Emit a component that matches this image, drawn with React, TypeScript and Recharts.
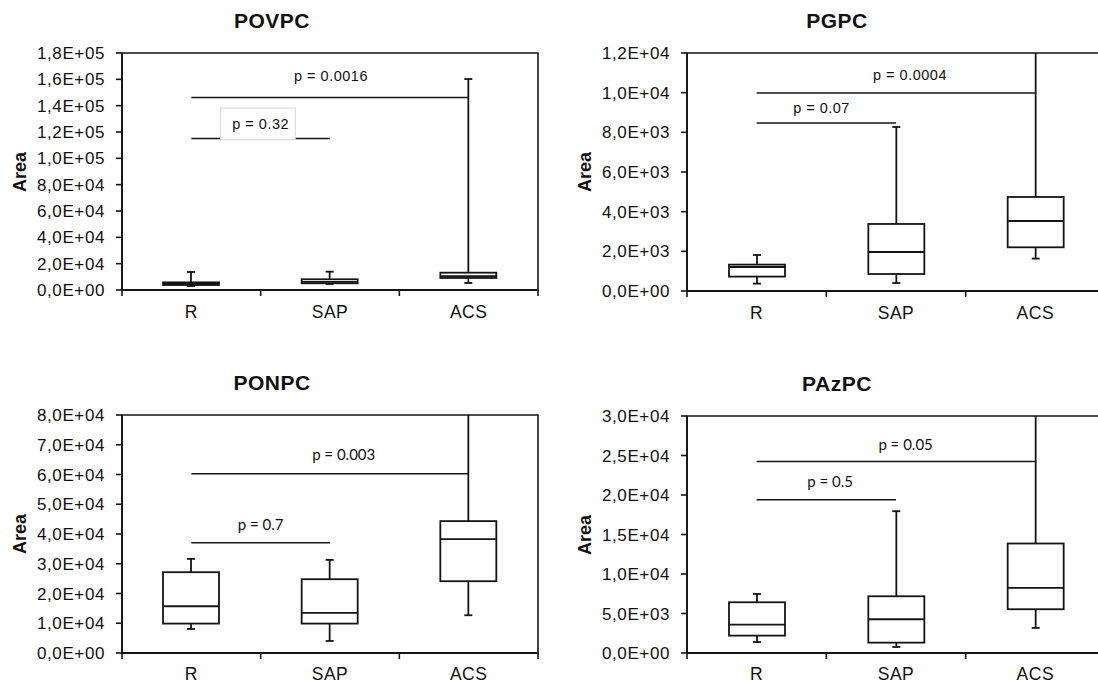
import React from 'react';
import { ComposedChart, Bar, Cell, XAxis, YAxis, ReferenceLine, ReferenceArea } from 'recharts';

// ---------- data ----------
const groups = ['R', 'SAP', 'ACS'];

const povpcMin = [3000, 4560, 5320];
const povpcQ1 = [3800, 5100, 9130];
const povpcMedian = [4500, 6200, 10500];
const povpcQ3 = [5800, 8140, 13160];
const povpcMax = [13690, 13920, 160240];
const povpcTicks = [0, 20000, 40000, 60000, 80000, 100000, 120000, 140000, 160000, 180000];
const povpcTests = [
  { from: 'R', to: 'ACS', y: 146250, text: 'p = 0.0016' },
  { from: 'R', to: 'SAP', y: 115070, text: 'p = 0.32' },
];

const pgpcMin = [373, 403, 1633];
const pgpcQ1 = [726, 857, 2203];
const pgpcMedian = [1210, 1966, 3530];
const pgpcQ3 = [1330, 3380, 4740];
const pgpcMax = [1815, 8270, 15000];
const pgpcTicks = [0, 2000, 4000, 6000, 8000, 10000, 12000];
const pgpcTests = [
  { from: 'R', to: 'ACS', y: 9983, text: 'p = 0.0004' },
  { from: 'R', to: 'SAP', y: 8470, text: 'p = 0.07' },
];

const ponpcMin = [8080, 4040, 12690];
const ponpcQ1 = [9890, 9890, 24130];
const ponpcMedian = [15720, 13460, 38270];
const ponpcQ3 = [27160, 24800, 44330];
const ponpcMax = [31640, 31300, 90000];
const ponpcTicks = [0, 10000, 20000, 30000, 40000, 50000, 60000, 70000, 80000];
const ponpcTests = [
  { from: 'R', to: 'ACS', y: 60250, text: 'p = 0.003' },
  { from: 'R', to: 'SAP', y: 37020, text: 'p = 0.7' },
];

const pazpcMin = [1390, 760, 3170];
const pazpcQ1 = [2200, 1310, 5540];
const pazpcMedian = [3590, 4270, 8240];
const pazpcQ3 = [6420, 7180, 13860];
const pazpcMax = [7475, 17950, 33000];
const pazpcTicks = [0, 5000, 10000, 15000, 20000, 25000, 30000];
const pazpcTests = [
  { from: 'R', to: 'ACS', y: 24250, text: 'p = 0.05' },
  { from: 'R', to: 'SAP', y: 19390, text: 'p = 0.5' },
];

// ---------- styles ----------
const FONT = '"Liberation Sans", Arial, sans-serif';
const CAL = 'Lato, "Liberation Sans", sans-serif';
const INK = '#141414';

function sci(v: number): string {
  if (v === 0) return '0,0E+00';
  const e = Math.floor(Math.log10(v) + 1e-9);
  const m = v / Math.pow(10, e);
  return m.toFixed(1).replace('.', ',') + 'E+' + String(e).padStart(2, '0');
}

function BoxShape(props: any) {
  const { x, y, width, height } = props;
  if (![x, y, width, height].every((n) => Number.isFinite(n))) return null;
  const d = props.payload ?? props;
  const { min, q1, median, q3, max } = d;
  const span = max - min;
  const py = (v: number) => y + ((max - v) / span) * height;
  const cx = x + width / 2;
  const cap = 4;
  const sw = 1.8;
  return (
    <g>
      <line x1={cx} x2={cx} y1={py(max)} y2={py(q3)} stroke={INK} strokeWidth={sw} />
      <line x1={cx} x2={cx} y1={py(q1)} y2={py(min)} stroke={INK} strokeWidth={sw} />
      <line x1={cx - cap} x2={cx + cap} y1={py(max)} y2={py(max)} stroke={INK} strokeWidth={sw} />
      <line x1={cx - cap} x2={cx + cap} y1={py(min)} y2={py(min)} stroke={INK} strokeWidth={sw} />
      <rect x={x} y={py(q3)} width={width} height={Math.max(0.5, py(q1) - py(q3))} fill={props.fill || '#fff'} stroke={INK} strokeWidth={sw} />
      <line x1={x} x2={x + width} y1={py(median)} y2={py(median)} stroke={INK} strokeWidth={sw} />
    </g>
  );
}

function XTick(props: any) {
  const { x, y, payload, index, bandW, count, rightTick, labelGap } = props;
  return (
    <g>
      <line x1={x - bandW / 2} x2={x - bandW / 2} y1={y} y2={y + 6} stroke={INK} strokeWidth={1.6} />
      {rightTick && index === count - 1 ? (
        <line x1={x + bandW / 2} x2={x + bandW / 2} y1={y} y2={y + 6} stroke={INK} strokeWidth={1.6} />
      ) : null}
      <text x={x} y={y + labelGap} textAnchor="middle" fontFamily={FONT} fontSize={17.5} letterSpacing={0.5} fill="#111">
        {payload.value}
      </text>
    </g>
  );
}

function PLabel(props: any) {
  const vb = props.viewBox || {};
  const cx = (vb.x ?? 0) + (vb.width ?? 0) / 2 + (props.dx || 0);
  const cy = (vb.y ?? 0) + (props.dy || 0);
  return (
    <g>
      {props.boxed ? (
        <rect x={cx - 40} y={cy - 15.7} width={74.6} height={31.7} fill="#fff" stroke="#d4d4d4" strokeWidth={1} />
      ) : null}
      <text x={cx} y={cy} dy="0.35em" textAnchor="middle" fontFamily={props.font} fontSize={props.size} letterSpacing={props.ls || 0} fill="#111">
        {props.text}
      </text>
    </g>
  );
}

type PanelCfg = {
  title: string;
  min: number[];
  q1: number[];
  median: number[];
  q3: number[];
  max: number[];
  ticks: number[];
  tests: { from: string; to: string; y: number; text: string }[];
  labelStyle: { dx: number; dy: number; boxed?: boolean }[];
  labelFont: string;
  labelSize: number;
  labelLs: number;
  fills: string[];
  left: number;
  top: number;
  width: number;
  height: number;
  margin: { top: number; right: number; bottom: number; left: number };
  yAxisWidth: number;
  xAxisHeight: number;
  labelGap: number;
  rightTick: boolean;
};

function Panel({ cfg }: { cfg: PanelCfg }) {
  const rows = groups.map((g, i) => ({
    group: g,
    min: cfg.min[i],
    q1: cfg.q1[i],
    median: cfg.median[i],
    q3: cfg.q3[i],
    max: cfg.max[i],
    range: [cfg.min[i], cfg.max[i]],
  }));
  const yMax = cfg.ticks[cfg.ticks.length - 1];
  const plotLeft = cfg.left + cfg.margin.left + cfg.yAxisWidth;
  const plotTop = cfg.top + cfg.margin.top;
  const plotBottom = cfg.top + cfg.height - cfg.margin.bottom - cfg.xAxisHeight;
  const bandW = (cfg.width - cfg.margin.left - cfg.margin.right - cfg.yAxisWidth) / groups.length;
  return (
    <>
      <div
        style={{
          position: 'absolute',
          left: plotLeft + 150,
          top: plotTop - 32.6,
          transform: 'translate(-50%, -50%)',
          fontFamily: FONT,
          fontWeight: 'bold',
          fontSize: 21,
          letterSpacing: 0.5,
          lineHeight: 1,
          whiteSpace: 'nowrap',
          color: '#111',
        }}
      >
        {cfg.title}
      </div>
      <div
        style={{
          position: 'absolute',
          left: plotLeft - 102.5,
          top: (plotTop + plotBottom) / 2,
          transform: 'translate(-50%, -50%) rotate(-90deg)',
          fontFamily: FONT,
          fontWeight: 'bold',
          fontSize: 18,
          lineHeight: 1,
          whiteSpace: 'nowrap',
          color: '#111',
        }}
      >
        Area
      </div>
      <div style={{ position: 'absolute', left: cfg.left, top: cfg.top }}>
        <ComposedChart width={cfg.width} height={cfg.height} data={rows} margin={cfg.margin}>
          <XAxis
            dataKey="group"
            type="category"
            height={cfg.xAxisHeight}
            interval={0}
            tickLine={false}
            tickSize={0}
            tickMargin={0}
            axisLine={{ stroke: INK, strokeWidth: 1.8 }}
            tick={<XTick bandW={bandW} count={groups.length} rightTick={cfg.rightTick} labelGap={cfg.labelGap} />}
          />
          <YAxis
            type="number"
            domain={[0, yMax]}
            ticks={cfg.ticks}
            interval={0}
            allowDataOverflow
            width={cfg.yAxisWidth}
            tickFormatter={sci}
            tickSize={6}
            tickMargin={11}
            tickLine={{ stroke: INK, strokeWidth: 1.6 }}
            axisLine={{ stroke: INK, strokeWidth: 1.8 }}
            tick={{ fill: '#111', fontSize: 17, fontFamily: FONT, letterSpacing: 0.6 }}
          />
          <ReferenceArea y1={0} y2={yMax} fill="none" fillOpacity={0} stroke={INK} strokeWidth={1.6} ifOverflow="visible" />
          <Bar dataKey="range" barSize={56} isAnimationActive={false} shape={<BoxShape />}>
            {rows.map((r, i) => (
              <Cell key={r.group} fill={cfg.fills[i]} />
            ))}
          </Bar>
          {cfg.tests.map((t, i) => (
            <ReferenceLine
              key={t.text}
              segment={[
                { x: t.from, y: t.y },
                { x: t.to, y: t.y },
              ]}
              stroke={INK}
              strokeWidth={1.5}
              ifOverflow="visible"
              label={
                <PLabel
                  text={t.text}
                  dx={cfg.labelStyle[i].dx}
                  dy={cfg.labelStyle[i].dy}
                  boxed={cfg.labelStyle[i].boxed}
                  font={cfg.labelFont}
                  size={cfg.labelSize}
                  ls={cfg.labelLs}
                />
              }
            />
          ))}
        </ComposedChart>
      </div>
    </>
  );
}

const panels: PanelCfg[] = [
  {
    title: 'POVPC',
    min: povpcMin, q1: povpcQ1, median: povpcMedian, q3: povpcQ3, max: povpcMax,
    ticks: povpcTicks, tests: povpcTests,
    labelStyle: [{ dx: 1, dy: -21.7 }, { dx: 0, dy: -14.7, boxed: true }],
    labelFont: FONT, labelSize: 14.5, labelLs: 0.5,
    fills: ['#141414', '#fff', '#fff'],
    left: 0, top: 0, width: 549, height: 340,
    margin: { top: 53, right: 11, bottom: 10, left: 0 },
    yAxisWidth: 122, xAxisHeight: 40, labelGap: 28, rightTick: true,
  },
  {
    title: 'PGPC',
    min: pgpcMin, q1: pgpcQ1, median: pgpcMedian, q3: pgpcQ3, max: pgpcMax,
    ticks: pgpcTicks, tests: pgpcTests,
    labelStyle: [{ dx: 14, dy: -17.7 }, { dx: -4.8, dy: -14.7 }],
    labelFont: FONT, labelSize: 14.5, labelLs: 0.5,
    fills: ['#fff', '#fff', '#fff'],
    left: 549, top: 0, width: 566, height: 340,
    margin: { top: 53, right: 10, bottom: 9, left: 0 },
    yAxisWidth: 138, xAxisHeight: 40, labelGap: 28, rightTick: false,
  },
  {
    title: 'PONPC',
    min: ponpcMin, q1: ponpcQ1, median: ponpcMedian, q3: ponpcQ3, max: ponpcMax,
    ticks: ponpcTicks, tests: ponpcTests,
    labelStyle: [{ dx: 13.7, dy: -19.4 }, { dx: 0, dy: -17.7 }],
    labelFont: CAL, labelSize: 15, labelLs: 0,
    fills: ['#fff', '#fff', '#fff'],
    left: 0, top: 340, width: 549, height: 343,
    margin: { top: 75, right: 11, bottom: 0, left: 0 },
    yAxisWidth: 122, xAxisHeight: 30, labelGap: 26.5, rightTick: true,
  },
  {
    title: 'PAzPC',
    min: pazpcMin, q1: pazpcQ1, median: pazpcMedian, q3: pazpcQ3, max: pazpcMax,
    ticks: pazpcTicks, tests: pazpcTests,
    labelStyle: [{ dx: 9.6, dy: -16.6 }, { dx: 3.7, dy: -18 }],
    labelFont: CAL, labelSize: 15, labelLs: 0,
    fills: ['#fff', '#fff', '#fff'],
    left: 549, top: 340, width: 566, height: 343,
    margin: { top: 76, right: 10, bottom: 0, left: 0 },
    yAxisWidth: 138, xAxisHeight: 30, labelGap: 26.5, rightTick: false,
  },
];

export default function App() {
  return (
    <div
      style={{
        position: 'absolute',
        left: 0,
        top: 0,
        width: 1098,
        height: 683,
        overflow: 'hidden',
        background: '#fff',
      }}
    >
      {panels.map((p) => (
        <Panel key={p.title} cfg={p} />
      ))}
    </div>
  );
}
